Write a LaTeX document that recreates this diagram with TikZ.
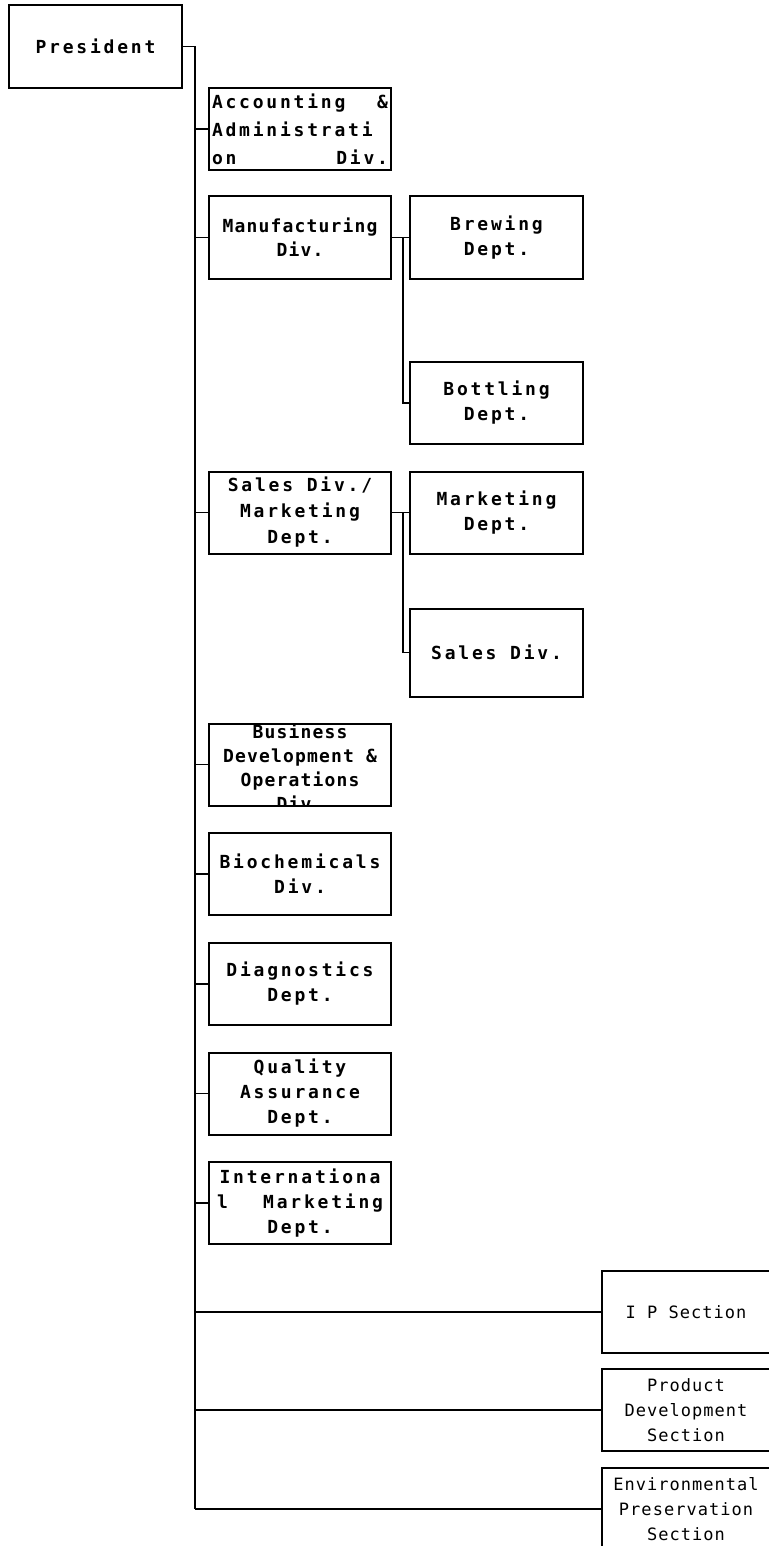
\documentclass[tikz,border=0pt]{standalone}
\usepackage{fontspec}
\newfontfamily\orgfont[LetterSpace=15.5]{DejaVu Sans Mono}
\newfontfamily\orgfontnarrow[LetterSpace=6.5]{DejaVu Sans Mono}
\newfontfamily\secfont[LetterSpace=6]{DejaVu Sans Mono}
\tikzset{
  orgbox/.style={draw, line width=2pt, inner sep=0pt, minimum width=182pt,
    minimum height=82pt, align=center,
    font=\orgfont\bfseries\fontsize{18}{25}\selectfont},
  narrowtext/.style={font=\orgfontnarrow\bfseries\fontsize{18}{24}\selectfont},
  subbox/.style={orgbox, minimum width=173pt},
  secbox/.style={orgbox, minimum width=168pt,
    font=\secfont\fontsize{17}{25}\selectfont},
  link/.style={line width=1.8pt}
}
\begin{document}
\begin{tikzpicture}[x=1pt, y=-1pt]
\useasboundingbox[fill=white] (0,0) rectangle (768,1546);
\def\mx{300}    % division column centre
\def\sx{496.5}  % department column centre
\def\tx{195}    % trunk line
% head of the chart
\node[orgbox, minimum width=173pt, minimum height=83pt] (pres) at (95.5,46.5) {President};
\coordinate (trunk) at (\tx,0);
% divisions hanging off the trunk
\node[orgbox, text width=176pt, align=left,
      font=\orgfont\bfseries\fontsize{18}{28}\selectfont] (acct) at (\mx,129)
  {Accounting\hspace{0pt plus 1fill}\&\\Administrati\\on\hspace{0pt plus 1fill}Div.};
\node[orgbox, narrowtext] (manu) at (\mx,237.5) {Manufacturing\\Div.};
\node[orgbox, font=\orgfont\bfseries\fontsize{18}{26}\selectfont] (sales) at (\mx,512.5)
  {Sales Div./\\Marketing\\Dept.};
% text runs over the box here, so it is clipped to the frame
\node[orgbox, path picture={
    \node[draw=none, narrowtext, align=center] at ([yshift=-3pt]path picture bounding box.center)
      {Business\\Development \&\\Operations\\Div.};}] (bdev) at (\mx,764.5) {};
\foreach \n/\y/\txt in {bchem/874/{Biochemicals\\Div.},
                        diag/984/{Diagnostics\\Dept.},
                        qa/1093.5/{Quality\\Assurance\\Dept.}} {
  \node[orgbox] (\n) at (\mx,\y) {\txt};
}
\node[orgbox, text width=166pt] (intl) at (\mx,1203)
  {Internationa\\l\hspace{0pt plus 1fill}Marketing\\Dept.};
% departments under manufacturing and sales
\node[subbox] (brew) at (\sx,237.5) {Brewing\\Dept.};
\node[subbox] (bott) at (\sx,403) {Bottling\\Dept.};
\node[subbox] (mkt) at (\sx,512.5) {Marketing\\Dept.};
\node[subbox, minimum height=88pt] (sdiv) at (\sx,652.5) {Sales Div.};
% sections at the foot
\node[secbox] (ip) at (686,1312) {I P Section};
\node[secbox] (pdev) at (686,1410) {Product\\Development\\Section};
\node[secbox] (envp) at (686,1509) {Environmental\\Preservation\\Section};
% connectors
\draw[link] (pres.east) -| (trunk |- envp.west);
\foreach \n in {acct,manu,sales,bdev,bchem,diag,qa,intl,ip,pdev,envp} {
  \draw[link] (trunk |- \n.west) -- (\n.west);
}
\draw[link] (manu.east) -- (brew.west);
\draw[link] ([xshift=11pt]manu.east) |- (bott.west);
\draw[link] (sales.east) -- (mkt.west);
\draw[link] ([xshift=11pt]sales.east) |- (sdiv.west);
\end{tikzpicture}
\end{document}
